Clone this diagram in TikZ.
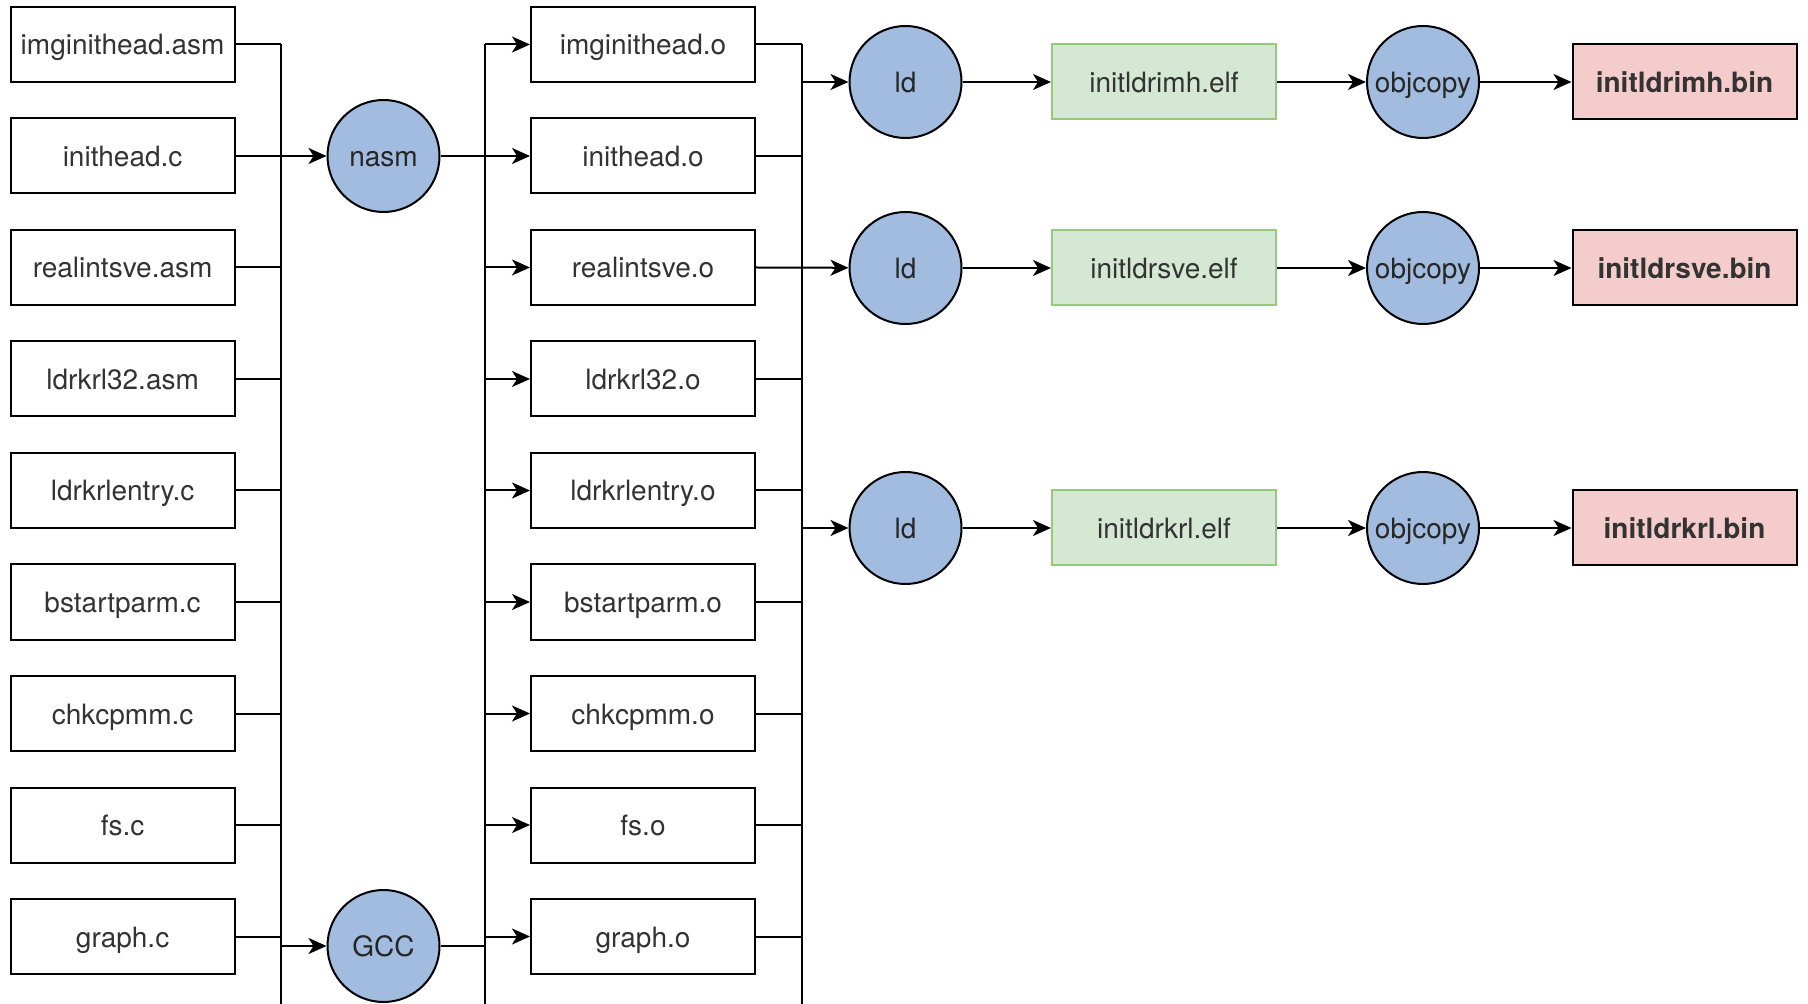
\documentclass[tikz,border=0pt]{standalone}
\usepackage{fontspec}
\setmainfont{TeX Gyre Heros}
\usetikzlibrary{arrows.meta}
\definecolor{txt}{HTML}{333333}
\definecolor{toolfill}{HTML}{A2BCE0}
\definecolor{elffill}{HTML}{D5E8D4}
\definecolor{elfline}{HTML}{97C97A}
\definecolor{binfill}{HTML}{F4CCCC}
\tikzset{
  label font/.style={font=\fontsize{14pt}{16pt}\selectfont, text height=10.5pt, text depth=0pt},
  filebox/.style={draw=black, line width=1pt, fill=white, minimum width=112pt,
    minimum height=37.5pt, inner sep=0pt, text=txt, label font},
  tool/.style={circle, draw=black, line width=1pt, fill=toolfill, minimum size=56pt,
    inner sep=0pt, text=black!85, label font},
  elfbox/.style={filebox, draw=elfline, fill=elffill},
  binbox/.style={filebox, fill=binfill, font=\fontsize{14pt}{16pt}\selectfont\bfseries},
  wire/.style={draw=black, line width=1pt},
  arr/.style={wire, -{Stealth[length=9pt,width=8pt,inset=2.5pt]}},
}
\begin{document}
\begin{tikzpicture}[x=0.5pt,y=-0.5pt]
\useasboundingbox (0,0) rectangle (1808,1004);

% bus columns
\coordinate (b1) at (281,0);
\coordinate (b2) at (485,0);
\coordinate (b3) at (802,0);

% source files
\foreach \i/\t in {0/imginithead.asm,1/inithead.c,2/realintsve.asm,3/ldrkrl32.asm,
  4/ldrkrlentry.c,5/bstartparm.c,6/chkcpmm.c,7/fs.c,8/graph.c}
  \node[filebox] (L\i) at (122.6,44.5+111.5*\i) {\t};

% object files
\foreach \i/\t in {0/imginithead.o,1/inithead.o,2/realintsve.o,3/ldrkrl32.o,
  4/ldrkrlentry.o,5/bstartparm.o,6/chkcpmm.o,7/fs.o,8/graph.o}
  \node[filebox] (M\i) at (643,44.5+111.5*\i) {\t};

% compilers
\node[tool] (nasm) at (383.5,156) {nasm};
\node[tool] (gcc) at (383.5,946) {GCC};

% linkers, images and binaries
\foreach \k/\y/\n in {1/82/initldrimh,2/268/initldrsve,3/528/initldrkrl}{
  \node[tool] (ld\k) at (905.5,\y) {ld};
  \node[elfbox] (elf\k) at (1164,\y) {\n.elf};
  \node[tool] (oc\k) at (1423,\y) {objcopy};
  \node[binbox] (bin\k) at (1684.5,\y) {\n.bin};
  \draw[arr] (ld\k) -- (elf\k);
  \draw[arr] (elf\k) -- (oc\k);
  \draw[arr] (oc\k) -- (bin\k);
}

% first bus: sources to compilers
\coordinate (b1end) at (281,1004);
\draw[wire] (L0.east -| b1) -- (b1end);
\foreach \i in {0,2,3,4,5,6,7,8}
  \draw[wire] (L\i.east) -- (L\i.east -| b1);
\draw[arr] (L1.east) -- (nasm);
\draw[arr] (b1 |- gcc) -- (gcc);

% second bus: compilers to object files
\coordinate (b2end) at (485,1004);
\draw[wire] (M0.west -| b2) -- (b2end);
\draw[wire] (nasm) -- (nasm -| b2);
\draw[wire] (gcc) -- (gcc -| b2);
\foreach \i in {0,...,8}
  \draw[arr] (M\i.west -| b2) -- (M\i.west);

% third bus: object files to linkers
\coordinate (b3end) at (802,1004);
\draw[wire] (M0.east -| b3) -- (b3end);
\foreach \i in {0,1,3,4,5,6,7,8}
  \draw[wire] (M\i.east) -- (M\i.east -| b3);
\draw[arr] (M2.east) -- (ld2);
\draw[arr] (b3 |- ld1) -- (ld1);
\draw[arr] (b3 |- ld3) -- (ld3);
\end{tikzpicture}
\end{document}
